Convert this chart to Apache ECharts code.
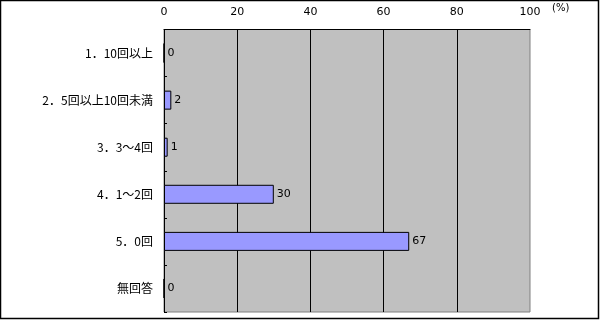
<!DOCTYPE html>
<html>
<head>
<meta charset="utf-8">
<script src="https://cdn.jsdelivr.net/npm/echarts@6/dist/echarts.min.js"></script>
<style>
html,body{margin:0;padding:0;background:#fff;}
#c{width:600px;height:320px;}
</style>
</head>
<body>
<div id="c"></div>
<script>
const categories = ["1．10回以上", "2．5回以上10回未満", "3．3～4回", "4．1～2回", "5．0回", "無回答"];
const values = [0, 2, 1, 30, 67, 0];
const xTicks = [0, 20, 40, 60, 80, 100];
const unitLabel = "(%)";

const chart = echarts.init(document.getElementById('c'), null, {renderer: 'canvas'});
chart.setOption({
  animation: false,
  backgroundColor: '#ffffff',
  grid: {
    left: 164, top: 29.5, right: 70, bottom: 8,
    show: true, backgroundColor: '#C0C0C0', borderColor: '#808080', borderWidth: 1
  },
  xAxis: {
    type: 'value', position: 'top', min: xTicks[0], max: xTicks[xTicks.length - 1], interval: 20,
    axisLine: {show: true, lineStyle: {color: '#000', width: 1}},
    axisTick: {show: false},
    axisLabel: {color: '#000', fontSize: 11, margin: 12, fontFamily: 'DejaVu Sans, sans-serif'},
    splitLine: {show: true, showMinLine: false, showMaxLine: false, lineStyle: {color: '#000', width: 1}}
  },
  yAxis: {
    type: 'category', inverse: true, data: categories,
    axisLine: {show: true, lineStyle: {color: '#000', width: 1}},
    axisTick: {show: true, inside: true, length: 3, lineStyle: {color: '#000'}},
    axisLabel: {color: '#000', fontSize: 12, margin: 11, fontFamily: '"Noto Sans CJK JP", sans-serif'}
  },
  series: [{
    type: 'bar', data: values, barWidth: 19,
    itemStyle: {color: '#9999FF', borderColor: '#000', borderWidth: 1},
    label: {show: true, position: 'right', distance: 3, color: '#000', fontSize: 11, fontFamily: 'DejaVu Sans, sans-serif'}
  }],
  graphic: [
    {type: 'text', left: 552, top: 3, style: {text: unitLabel, fill: '#000', font: '10px "DejaVu Sans", sans-serif'}},
    {type: 'rect', shape: {x: 0.5, y: 0.5, width: 598, height: 318}, style: {fill: 'none', stroke: '#000', lineWidth: 1.5}, z: 100}
  ]
});
</script>
</body>
</html>
